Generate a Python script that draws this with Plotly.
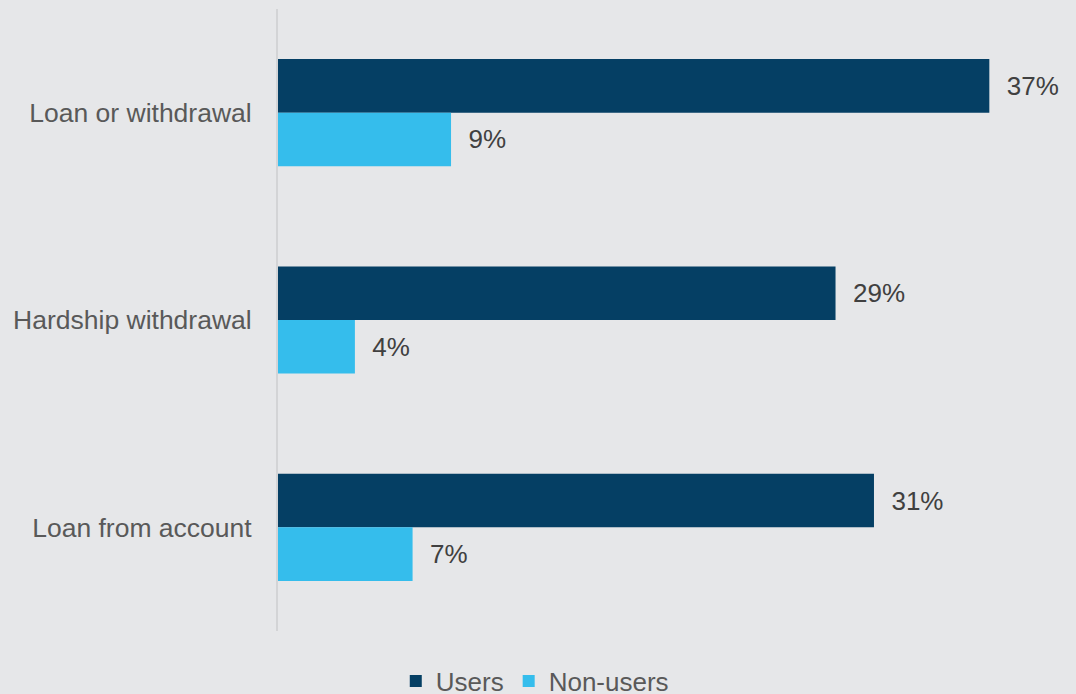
import plotly.graph_objects as go

categories = ["Loan or withdrawal", "Hardship withdrawal", "Loan from account"]
users = [37, 29, 31]
non_users = [9, 4, 7]

FONT = "Liberation Sans, Arial, sans-serif"
BG = "#e6e7e9"

fig = go.Figure()
fig.add_trace(go.Bar(
    y=categories, x=users, name="Users", orientation="h",
    marker=dict(color="#053f64", line=dict(width=0)),
    text=users, texttemplate="  %{x}%", textposition="outside",
    textfont=dict(family=FONT, size=26, color="#404040"),
    cliponaxis=False,
))
fig.add_trace(go.Bar(
    y=categories, x=non_users, name="Non-users", orientation="h",
    marker=dict(color="#35bdec", line=dict(width=0)),
    text=non_users, texttemplate="  %{x}%", textposition="outside",
    textfont=dict(family=FONT, size=26, color="#404040"),
    cliponaxis=False,
))

fig.update_layout(
    width=1076, height=694,
    paper_bgcolor=BG, plot_bgcolor=BG,
    margin=dict(l=278, r=29, t=9, b=63),
    barmode="group", bargap=0.483, bargroupgap=0,
    font=dict(family=FONT, size=26, color="#595959"),
    showlegend=True,
    legend=dict(
        orientation="h", xref="container", yref="container",
        x=0.497, xanchor="center", y=0.0187, yanchor="middle",
        font=dict(family=FONT, size=26, color="#595959"),
        bgcolor="rgba(0,0,0,0)", itemwidth=30, tracegroupgap=0,
    ),
)
fig.update_xaxes(range=[0, 40], showgrid=False, zeroline=False,
                 showticklabels=False, showline=False)
fig.update_yaxes(autorange="reversed", showgrid=False, zeroline=False,
                 showline=True, linecolor="#d3d4d6", linewidth=2,
                 ticks="", ticklabelstandoff=19,
                 tickfont=dict(family=FONT, size=26.5, color="#595959"))

fig.write_html("out.html")
